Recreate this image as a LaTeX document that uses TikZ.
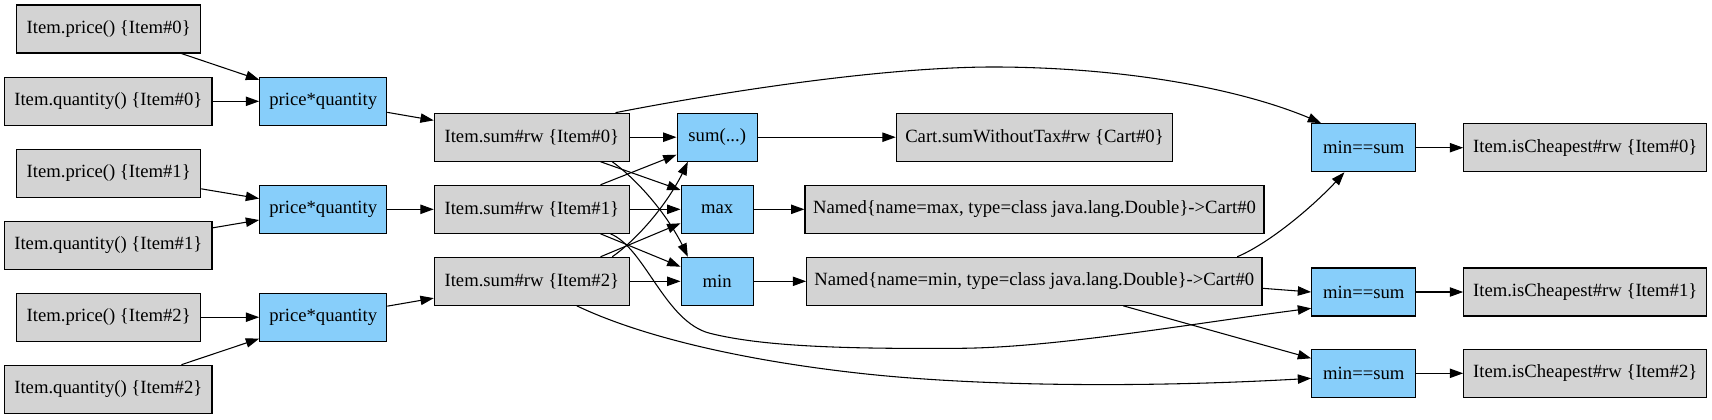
\documentclass[tikz,border=0pt]{standalone}
\usepackage{fontspec}
\setmainfont{Liberation Serif}
\usetikzlibrary{arrows.meta,calc,bending}
\definecolor{gvgray}{HTML}{D3D3D3}
\definecolor{gvblue}{HTML}{87CEFA}
\begin{document}
\begin{tikzpicture}[x=0.75pt,y=-0.75pt,
  box/.style={draw=black, line width=0.8pt, minimum height=36pt, inner sep=0pt,
    font=\fontsize{14}{16}\selectfont},
  gbox/.style={box, fill=gvgray},
  bbox/.style={box, fill=gvblue},
  edge/.style={-{Triangle[length=10pt,width=7pt]}, line width=0.8pt, black}]
\useasboundingbox (0,0) rectangle (1712,419);
% column 1
\node[gbox, minimum width=138pt]   (p0) at (108.7,29)    {Item.price() \{Item\#0\}};
\node[gbox, minimum width=155.5pt] (q0) at (108.3,101.3) {Item.quantity() \{Item\#0\}};
\node[gbox, minimum width=138pt]   (p1) at (108.7,173.3) {Item.price() \{Item\#1\}};
\node[gbox, minimum width=155.5pt] (q1) at (108.3,245.3) {Item.quantity() \{Item\#1\}};
\node[gbox, minimum width=138pt]   (p2) at (108.7,317.2) {Item.price() \{Item\#2\}};
\node[gbox, minimum width=155.5pt] (q2) at (108.3,389.2) {Item.quantity() \{Item\#2\}};
% column 2
\node[bbox, minimum width=95.25pt] (pq0) at (323.2,101.3) {price*quantity};
\node[bbox, minimum width=95.25pt] (pq1) at (323.2,209.3) {price*quantity};
\node[bbox, minimum width=95.25pt] (pq2) at (323.2,317.2) {price*quantity};
% column 3
\node[gbox, minimum width=146.25pt] (s0) at (531.8,137.2) {Item.sum\#rw \{Item\#0\}};
\node[gbox, minimum width=146.25pt] (s1) at (531.8,209.3) {Item.sum\#rw \{Item\#1\}};
\node[gbox, minimum width=146.25pt] (s2) at (531.8,281.3) {Item.sum\#rw \{Item\#2\}};
% column 4
\node[bbox, minimum width=60.2pt] (sumop) at (717.2,137.2) {sum(...)};
\node[bbox, minimum width=54.2pt] (max)   at (717.2,209.3) {max};
\node[bbox, minimum width=54.2pt] (min)   at (717.2,281.3) {min};
% column 5
\node[gbox, minimum width=207.3pt]  (cart) at (1034.5,137.2) {Cart.sumWithoutTax\#rw \{Cart\#0\}};
\node[gbox, minimum width=344.25pt] (nmax) at (1034.5,209.3) {Named\{name=max, type=class java.lang.Double\}->Cart\#0};
\node[gbox, minimum width=341.5pt]  (nmin) at (1034.3,281.3) {Named\{name=min, type=class java.lang.Double\}->Cart\#0};
% column 6
\node[bbox, minimum width=78.2pt] (ms0) at (1363.8,147.7) {min==sum};
\node[bbox, minimum width=78.2pt] (ms1) at (1363.8,292)   {min==sum};
\node[bbox, minimum width=78.2pt] (ms2) at (1363.8,373.3) {min==sum};
% column 7
\node[gbox, minimum width=182.25pt] (ic0) at (1585.2,147.7) {Item.isCheapest\#rw \{Item\#0\}};
\node[gbox, minimum width=182.25pt] (ic1) at (1585.2,292)   {Item.isCheapest\#rw \{Item\#1\}};
\node[gbox, minimum width=182.25pt] (ic2) at (1585.2,373.3) {Item.isCheapest\#rw \{Item\#2\}};

% edges column 1 -> 2
\draw[edge] (p0) -- (pq0);
\draw[edge] (q0) -- (pq0);
\draw[edge] (p1) -- (pq1);
\draw[edge] (q1) -- (pq1);
\draw[edge] (p2) -- (pq2);
\draw[edge] (q2) -- (pq2);
% 2 -> 3
\draw[edge] (pq0) -- (s0);
\draw[edge] (pq1) -- (s1);
\draw[edge] (pq2) -- (s2);
% 3 -> 4
\draw[edge] (s0) -- (sumop);
\draw[edge] ($(s1.north east)+(-29.3,0)$) -- ($(sumop.west)+(0,17.5)$);
\draw[edge] ($(s2.north east)+(-17.6,0)$) .. controls (635,241) and (670,203.7) .. ($(sumop.south west)+(11.3,0)$);
\draw[edge] ($(s0.south east)+(-29.3,0)$) -- ($(max.west)+(0,-19.3)$);
\draw[edge] (s1) -- (max);
\draw[edge] ($(s2.north east)+(-29.3,0)$) -- ($(max.west)+(0,14)$);
\draw[edge] ($(s0.south east)+(-17.6,0)$) .. controls (635,178) and (670,215) .. ($(min.north west)+(7.3,0)$);
\draw[edge] ($(s1.south east)+(-29.3,0)$) -- ($(min.west)+(0,-14.6)$);
\draw[edge] (s2) -- (min);
% 4 -> 5
\draw[edge] (sumop) -- (cart);
\draw[edge] (max) -- (nmax);
\draw[edge] (min) -- (nmin);
% long edges to min==sum
\draw[edge] ($(s0.north east)+(-14.3,0)$) .. controls (680,100) and (870,66) .. (1000,67)
  .. controls (1130,68) and (1250,90) .. ($(ms0.north west)+(10,0)$);
\draw[edge] ($(nmin.north east)+(-25.3,0)$) .. controls (1270,243) and (1318,203) .. ($(ms0.south west)+(33.3,0)$);
\draw[edge] ($(nmin.east)+(0,7)$) -- (ms1.west);
\draw[edge] ($(nmin.south)+(89,0)$) -- ($(ms2.west)+(0,-15)$);
\draw[edge] ($(s1.south east)+(-19.3,0)$) .. controls (645,248) and (665,322) .. (710,333.3)
  .. controls (764,346.9) and (850,349) .. (960,348.3)
  .. controls (1060,347.5) and (1200,322) .. ($(ms1.west)+(0,16.3)$);
\draw[edge] ($(s2.south)+(45,0)$) .. controls (640,336) and (740,360) .. (860,373.3)
  .. controls (980,386.6) and (1150,388) .. ($(ms2.west)+(0,5)$);
% 6 -> 7
\draw[edge] (ms0) -- (ic0);
\draw[edge] (ms1) -- (ic1);
\draw[edge] (ms2) -- (ic2);
\end{tikzpicture}
\end{document}
